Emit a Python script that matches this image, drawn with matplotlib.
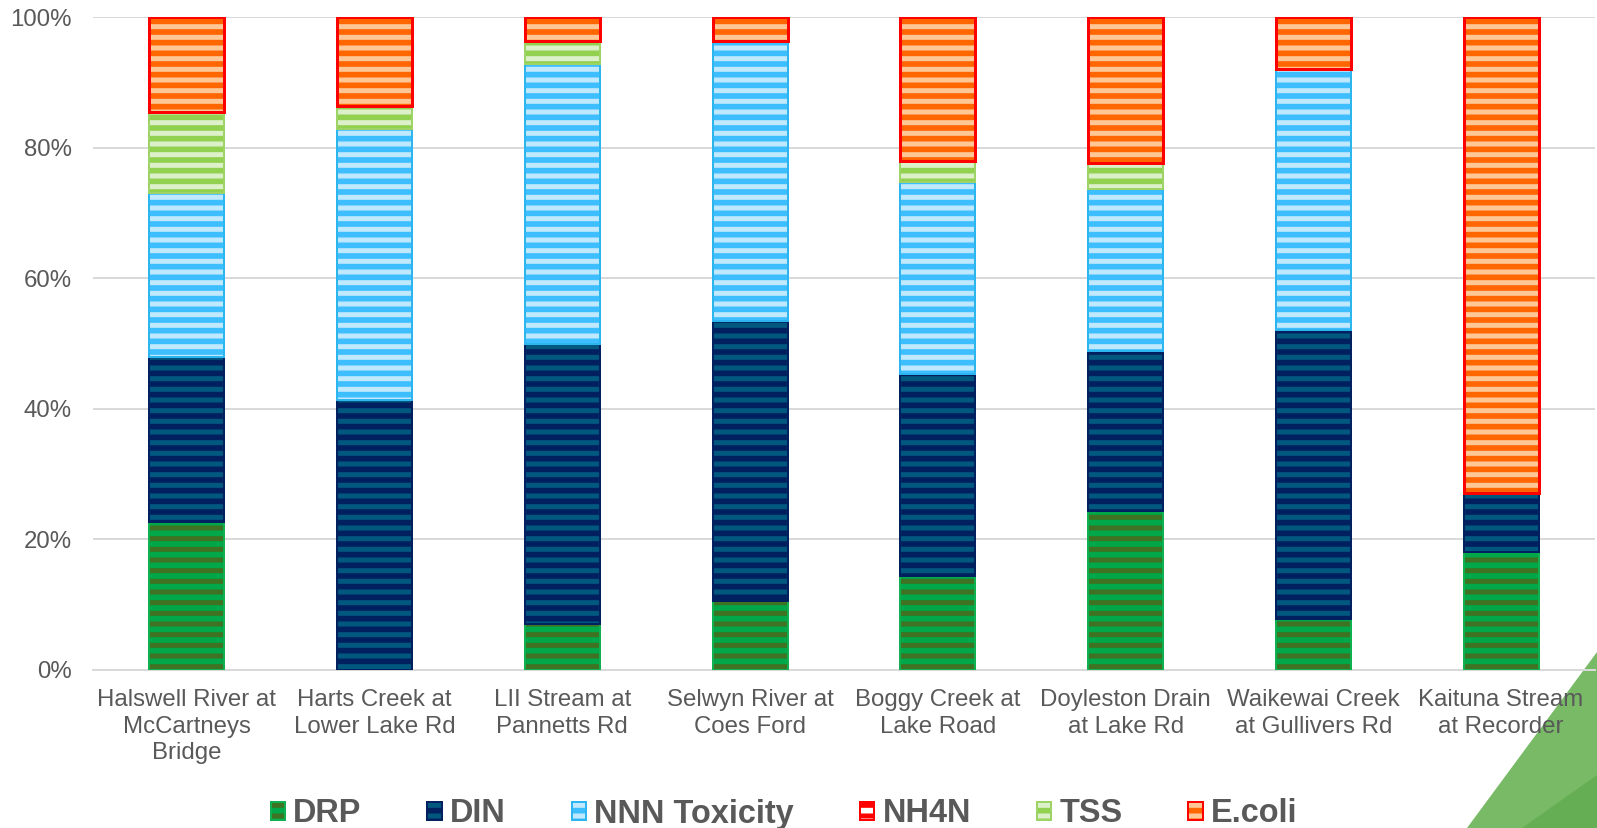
import matplotlib
matplotlib.use("Agg")
import matplotlib.pyplot as plt
from matplotlib.patches import Polygon, Rectangle
from matplotlib.ticker import PercentFormatter
from matplotlib.legend_handler import HandlerTuple
import numpy as np

# Share of each water-quality attribute per monitoring site (%)
sites = [
    "Halswell River at\nMcCartneys\nBridge",
    "Harts Creek at\nLower Lake Rd",
    "LII Stream at\nPannetts Rd",
    "Selwyn River at\nCoes Ford",
    "Boggy Creek at\nLake Road",
    "Doyleston Drain\nat Lake Rd",
    "Waikewai Creek\nat Gullivers Rd",
    "Kaituna Stream\nat Recorder",
]
series_names = ["DRP", "DIN", "NNN Toxicity", "NH4N", "TSS", "E.coli"]
drp = [22.6, 0.0, 7.0, 10.6, 14.4, 24.3, 7.8, 18.1]
din = [25.3, 41.3, 42.9, 42.8, 31.0, 24.5, 44.3, 9.0]
nnn = [25.1, 41.5, 42.9, 43.0, 29.3, 24.8, 39.9, 0.0]
nh4n = [0.0, 0.0, 0.0, 0.0, 0.0, 0.0, 0.0, 0.0]
tss = [12.5, 3.5, 3.6, 0.0, 3.3, 4.1, 0.0, 0.0]
ecoli = [14.5, 13.7, 3.6, 3.6, 22.0, 22.3, 8.0, 72.9]

# fill colour, stripe colour, outline colour, outline width (px)
styles = [
    ("#00A84A", "#3F7222", "#10B050", 2.0),
    ("#002060", "#00587F", "#002060", 2.0),
    ("#3DBEFF", "#C0E8FF", "#2DB5F0", 2.0),
    ("#FFFFFF", "#FF0000", "#FF0000", 3.0),
    ("#92D050", "#DCF0CA", "#9ED465", 2.0),
    ("#FF6600", "#FFC796", "#FF0000", 3.0),
]

DPI = 64
W, H = 1597, 828
px = 72.0 / DPI  # points per pixel

plt.rcParams["font.family"] = ["Liberation Sans", "DejaVu Sans"]
plt.rcParams["hatch.linewidth"] = 5.0 * px

fig = plt.figure(figsize=(W / DPI, H / DPI), dpi=DPI, facecolor="white")
ax_left, ax_right, ax_top, ax_bottom = 93, 1595, 17, 670
ax = fig.add_axes([ax_left / W, 1 - ax_bottom / H,
                   (ax_right - ax_left) / W, (ax_bottom - ax_top) / H])
ax.set_facecolor("none")

data = np.array([drp, din, nnn, nh4n, tss, ecoli], dtype=float)
fractions = data / data.sum(axis=0)
x = np.arange(len(sites))
bar_w = 0.40
bottom = np.zeros(len(sites))
handles = []
for name, vals, (face, stripe, edge, lw) in zip(series_names, fractions, styles):
    ax.bar(x, vals, bar_w, bottom=bottom, color=face, edgecolor=stripe,
           linewidth=0, hatch="-", zorder=2)
    edges = [edge if v > 0 else "none" for v in vals]
    ax.bar(x, vals, bar_w, bottom=bottom, fill=False, edgecolor=edges,
           linewidth=lw * px, zorder=3)
    h1 = Rectangle((0, 0), 1, 1, facecolor=face, edgecolor=stripe, linewidth=0, hatch="-")
    h2 = Rectangle((0, 0), 1, 1, fill=False, edgecolor=edge, linewidth=2.0 * px)
    handles.append((h1, h2))
    bottom = bottom + vals

ax.set_xlim(-0.5, len(sites) - 0.5)
ax.set_ylim(0, 1)
ax.set_yticks(np.linspace(0, 1, 6))
ax.yaxis.set_major_formatter(PercentFormatter(1.0, decimals=0))
ax.grid(axis="y", color="#D9D9D9", linewidth=2 * px, zorder=0)
ax.set_axisbelow(True)
for s in ["top", "right", "left"]:
    ax.spines[s].set_visible(False)
ax.spines["bottom"].set_color("#D9D9D9")
ax.spines["bottom"].set_linewidth(2 * px)
ax.tick_params(axis="y", length=0, pad=21 * px, labelsize=24 * px, labelcolor="#595959")
ax.set_xticks(x)
ax.set_xticklabels(sites, fontsize=24 * px, color="#595959", linespacing=1.27)
ax.tick_params(axis="x", length=0, pad=19 * px)

fig.legend(handles, series_names, loc="center", bbox_to_anchor=(784 / W, 1 - 814 / H),
           ncol=6, frameon=False, handler_map={tuple: HandlerTuple(ndivide=1)},
           handlelength=0.45, handleheight=0.45, handletextpad=0.25, columnspacing=2.02,
           prop={"size": 32.5 * px, "weight": "bold"}, labelcolor="#595959")

# decorative green corner
fig.patches.append(Polygon([(1467 / W, 0), (1.0, 1 - 652 / H), (1.0, 0)], closed=True,
                           transform=fig.transFigure, facecolor="#78BA66",
                           edgecolor="none", zorder=-1))
fig.patches.append(Polygon([(1522 / W, 0), (1.0, 1 - 775 / H), (1.0, 0)], closed=True,
                           transform=fig.transFigure, facecolor="#66AE54",
                           edgecolor="none", zorder=-1))

fig.savefig("out.png", dpi=DPI, facecolor="white")
